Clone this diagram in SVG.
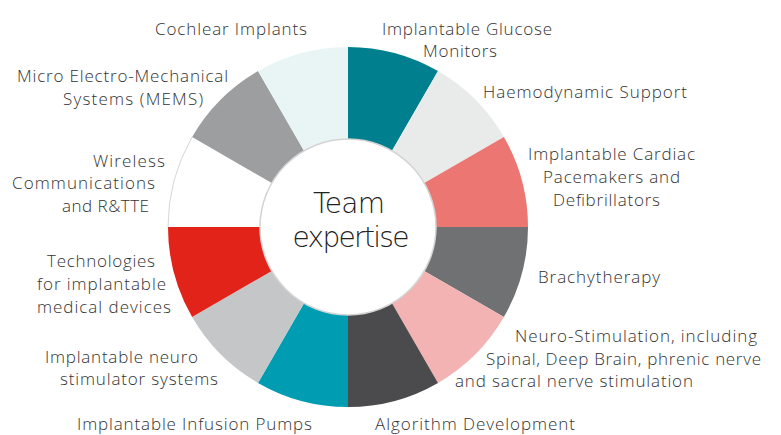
<svg xmlns="http://www.w3.org/2000/svg" width="781" height="435" viewBox="0 0 781 435">
<style>
.lbl{font-family:"Open Sans","Liberation Sans",sans-serif;font-weight:300;font-size:17px;fill:#333;}
.ctr{font-family:"DejaVu Sans","Liberation Sans",sans-serif;font-weight:200;font-size:28px;fill:#222;}
.seg{stroke:none;}
</style>
<rect width="781" height="435" fill="#fff"/>
<g id="n-glucose">
<path class="seg" fill="#00808f" d="M348,47 A180,180 0 0 1 438,71.12 L392,150.79 A88,88 0 0 0 348,139 Z"/>
<text class="lbl" x="382" y="35" textLength="170">Implantable Glucose</text>
<text class="lbl" x="423" y="57" textLength="74">Monitors</text>
</g>
<g id="n-haemo">
<path class="seg" fill="#e9eaea" d="M438,71.12 A180,180 0 0 1 503.88,137 L424.21,183 A88,88 0 0 0 392,150.79 Z"/>
<text class="lbl" x="483" y="98" textLength="204">Haemodynamic Support</text>
</g>
<g id="n-cardiac">
<path class="seg" fill="#ec7672" d="M503.88,137 A180,180 0 0 1 528,227 L436,227 A88,88 0 0 0 424.21,183 Z"/>
<text class="lbl" x="528" y="160" textLength="167">Implantable Cardiac</text>
<text class="lbl" x="543" y="183" textLength="137">Pacemakers and</text>
<text class="lbl" x="553" y="206" textLength="107">Defibrillators</text>
</g>
<g id="n-brachy">
<path class="seg" fill="#707173" d="M528,227 A180,180 0 0 1 503.88,317 L424.21,271 A88,88 0 0 0 436,227 Z"/>
<text class="lbl" x="538" y="283" textLength="122">Brachytherapy</text>
</g>
<g id="n-neurostim">
<path class="seg" fill="#f4b3b3" d="M503.88,317 A180,180 0 0 1 438,382.88 L392,303.21 A88,88 0 0 0 424.21,271 Z"/>
<text class="lbl" x="515" y="342" textLength="242">Neuro-Stimulation, including</text>
<text class="lbl" x="486" y="365" textLength="275">Spinal, Deep Brain, phrenic nerve</text>
<text class="lbl" x="455" y="387" textLength="238">and sacral nerve stimulation</text>
</g>
<g id="n-algorithm">
<path class="seg" fill="#4b4b4d" d="M438,382.88 A180,180 0 0 1 348,407 L348,315 A88,88 0 0 0 392,303.21 Z"/>
<text class="lbl" x="375" y="430" textLength="200">Algorithm Development</text>
</g>
<g id="n-infusion">
<path class="seg" fill="#009db2" d="M348,407 A180,180 0 0 1 258,382.88 L304,303.21 A88,88 0 0 0 348,315 Z"/>
<text class="lbl" x="77" y="430" textLength="235">Implantable Infusion Pumps</text>
</g>
<g id="n-neurosys">
<path class="seg" fill="#c5c6c8" d="M258,382.88 A180,180 0 0 1 192.12,317 L271.79,271 A88,88 0 0 0 304,303.21 Z"/>
<text class="lbl" x="45" y="363" textLength="153">Implantable neuro</text>
<text class="lbl" x="60" y="385" textLength="158">stimulator systems</text>
</g>
<g id="n-tech">
<path class="seg" fill="#e2231a" d="M192.12,317 A180,180 0 0 1 168,227 L260,227 A88,88 0 0 0 271.79,271 Z"/>
<text class="lbl" x="47" y="267" textLength="108">Technologies</text>
<text class="lbl" x="37" y="290" textLength="129">for implantable</text>
<text class="lbl" x="37" y="313" textLength="134">medical devices</text>
</g>
<g id="n-wireless">
<path class="seg" fill="#ffffff" d="M168,227 A180,180 0 0 1 192.12,137 L271.79,183 A88,88 0 0 0 260,227 Z"/>
<path d="M168,227 A180,180 0 0 1 192.12,137" fill="none" stroke="#d6d6d6" stroke-width="1"/>
<text class="lbl" x="93" y="167" textLength="72">Wireless</text>
<text class="lbl" x="12" y="189" textLength="143">Communications</text>
<text class="lbl" x="62" y="212" textLength="87">and R&amp;TTE</text>
</g>
<g id="n-mems">
<path class="seg" fill="#9d9e9f" d="M192.12,137 A180,180 0 0 1 258,71.12 L304,150.79 A88,88 0 0 0 271.79,183 Z"/>
<text class="lbl" x="17" y="82" textLength="211">Micro Electro-Mechanical</text>
<text class="lbl" x="63" y="105" textLength="140">Systems (MEMS)</text>
</g>
<g id="n-cochlear">
<path class="seg" fill="#e9f5f5" d="M258,71.12 A180,180 0 0 1 348,47 L348,139 A88,88 0 0 0 304,150.79 Z"/>
<text class="lbl" x="155" y="35" textLength="152">Cochlear Implants</text>
</g>
<g id="n-center">
<circle cx="348" cy="227" r="88" fill="#fff" stroke="#d4d4d4" stroke-width="1.5"/>
<text class="ctr" x="349" y="213" text-anchor="middle" textLength="72">Team</text>
<text class="ctr" x="351" y="247" text-anchor="middle" textLength="117">expertise</text>
</g>
<g id="connectors"/>
</svg>
